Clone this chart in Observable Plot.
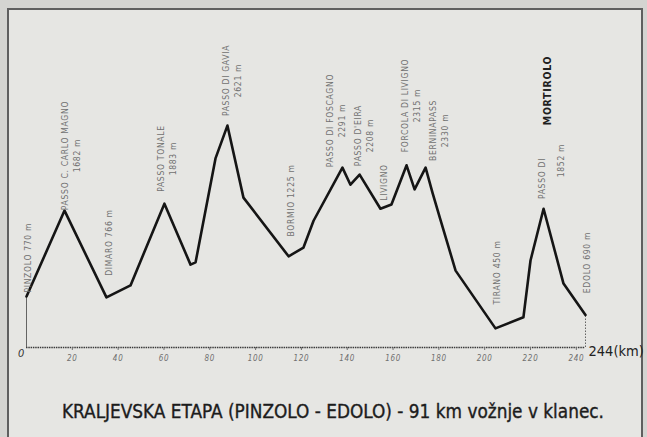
<!DOCTYPE html>
<html><head><meta charset="utf-8">
<script src="https://cdn.jsdelivr.net/npm/d3@7"></script>
<script src="https://cdn.jsdelivr.net/npm/@observablehq/plot@0.6"></script>
<style>
html,body{margin:0;padding:0;width:647px;height:437px;overflow:hidden;background:#d4d4d1;}
#frame{position:absolute;left:7px;top:8px;width:632px;height:440px;border:2px solid #5f5f5f;background:#e6e6e3;}
#chart{position:absolute;left:0;top:0;}
#cap{position:absolute;left:0;top:380px;}
</style></head><body>
<div id="frame"></div>
<div id="chart"></div>
<div id="cap"></div>
<script>
// Stage profile: distance (km) and altitude (m)
const km   = [0, 16.6, 34.9, 45.4, 60.2, 71.6, 73.8, 82.5, 87.7, 94.7, 114.4, 120.9, 125.3, 137.9, 141.4, 145.4, 154.5, 159.3, 165.9, 169.4, 174.2, 177.2, 180.7, 187.3, 204.7, 216.9, 220.0, 225.7, 234.4, 244];
const elev = [770, 1700, 760, 890, 1775, 1115, 1140, 2265, 2620, 1840, 1205, 1300, 1590, 2165, 1980, 2090, 1720, 1765, 2190, 1930, 2165, 1895, 1600, 1050, 425, 545, 1160, 1720, 910, 570];

// Place labels
const labelText = ["PINZOLO 770 m", "PASSO C. CARLO MAGNO\n1682 m", "DIMARO 766 m", "PASSO TONALE\n1883 m", "PASSO DI GAVIA\n2621 m", "BORMIO 1225 m", "PASSO DI FOSCAGNO\n2291 m", "PASSO D'EIRA\n2208 m", "LIVIGNO", "FORCOLA DI LIVIGNO\n2315 m", "BERNINAPASS\n2330 m", "TIRANO 450 m", "PASSO DI", "1852 m", "EDOLO 690 m"];
const labelKm   = [0.2, 19.2, 35.8, 61.1, 89.5, 115.2, 134.9, 147.1, 155.8, 167.6, 179.8, 205.2, 224.8, 233.1, 244.4];
const labelElev = [1190, 2296, 1354, 2263, 3108, 1809, 2675, 2512, 2004, 2837, 2567, 1030, 2047, 2242, 1138];

const boldText = ["MORTIROLO"];
const boldKm   = [227.4];
const boldElev = [3000];

const tickVals = [20, 40, 60, 80, 100, 120, 140, 160, 180, 200, 220, 240];
const zeroLabel = ["0"];
const endLabel = ["244(km)"];
const caption = "KRALJEVSKA ETAPA (PINZOLO - EDOLO) - 91 km vožnje v klanec.";

const yBase = 218, yTop = 3541, kmEnd = 244;

const profile = km.map((k, i) => ({km: k, elev: elev[i]}));
const labels = labelText.map((t, i) => ({text: t, km: labelKm[i], elev: labelElev[i]}));
const bold = boldText.map((t, i) => ({text: t, km: boldKm[i], elev: boldElev[i]}));

const font = "'Liberation Sans Narrow', 'DejaVu Sans Condensed', sans-serif";

const plot = Plot.plot({
  width: 647,
  height: 380,
  marginLeft: 26,
  marginRight: 62,
  marginTop: 40,
  marginBottom: 33,
  style: {background: "transparent", fontFamily: font},
  x: {domain: [0, kmEnd]},
  y: {domain: [yBase, yTop], axis: null},
  marks: [
    Plot.ruleY([yBase], {x1: 0, x2: kmEnd, stroke: "#3a3a3a", strokeWidth: 1.3, strokeDasharray: "1.5,0.8"}),
    Plot.ruleX([0], {y1: yBase, y2: elev[0], stroke: "#555", strokeWidth: 0.9}),
    Plot.ruleX([kmEnd], {y1: yBase, y2: elev[elev.length - 1], stroke: "#555", strokeWidth: 0.9, strokeDasharray: "1.5,1.5"}),
    Plot.axisX({ticks: tickVals, tickSize: 3, tickPadding: 5, tickFormat: d => String(d), fontSize: 8, fontStyle: "italic", color: "#707070", label: null}),
    Plot.text(zeroLabel, {x: () => 0, y: () => yBase, text: d => d, dx: -5, dy: 6, fontSize: 11, fontStyle: "italic", fill: "#333"}),
    Plot.text(endLabel, {x: () => kmEnd, y: () => yBase, text: d => d, dx: 3, dy: 4, textAnchor: "start", fontSize: 14.5, fill: "#222"}),
    Plot.line(profile, {x: "km", y: "elev", stroke: "#151515", strokeWidth: 2.6, strokeLinejoin: "round"}),
    Plot.text(labels, {x: "km", y: "elev", text: "text", rotate: -90, textAnchor: "middle", lineAnchor: "middle", lineHeight: 1.4, fontSize: 8.5, fill: "#707070"}),
    Plot.text(bold, {x: "km", y: "elev", text: "text", rotate: -90, textAnchor: "middle", fontSize: 10.5, fontWeight: "bold", fill: "#1e1e1e"})
  ]
});
d3.select(plot).selectAll("text").style("letter-spacing", "0.7px");
d3.select(plot).selectAll("text").filter(function() { return this.textContent === "244(km)"; }).style("letter-spacing", "0px");
document.getElementById("chart").appendChild(plot);

const cap = d3.create("svg").attr("width", 647).attr("height", 57);
cap.append("text")
  .attr("x", 62).attr("y", 38)
  .attr("textLength", 542).attr("lengthAdjust", "spacingAndGlyphs")
  .style("font-family", font).style("font-size", "19px").style("fill", "#1c1c1c")
  .style("stroke", "#1c1c1c").style("stroke-width", "0.35px")
  .text(caption);
document.getElementById("cap").appendChild(cap.node());
</script>
</body></html>
